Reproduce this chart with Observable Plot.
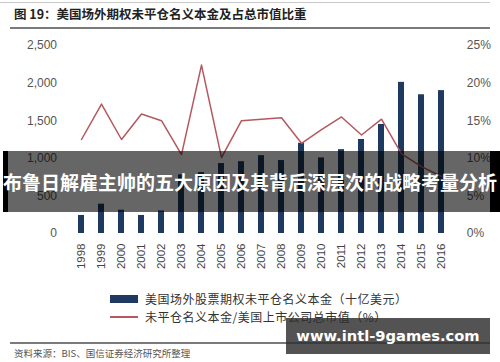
<!DOCTYPE html>
<html>
<head>
<meta charset="utf-8">
<script src="https://cdn.jsdelivr.net/npm/d3@7"></script>
<script src="https://cdn.jsdelivr.net/npm/@observablehq/plot@0.6"></script>
<style>
  html, body { margin: 0; padding: 0; background: #fff; }
  #page { position: relative; width: 500px; height: 362px; overflow: hidden; background: #fff;
          font-family: "Liberation Sans", Arial, "Noto Sans CJK SC", sans-serif; }
  .abs { position: absolute; }
  #chart { position: absolute; left: 0; top: 30px; }
  .cjk { font-family: "Noto Sans CJK SC", sans-serif; }
</style>
</head>
<body>
<div id="page">
  <div class="abs" style="left:0;top:2px;width:490px;height:1px;background:#c8c8c8"></div>
  <div class="abs cjk" id="title" style="left:14px;top:6px;font-size:12.5px;font-weight:bold;color:#222;line-height:16px;white-space:nowrap"></div>
  <div class="abs" style="left:10px;top:27px;width:480px;height:2px;background:#7a7a7a"></div>
  <div id="chart"></div>
  <div class="abs" style="left:110px;top:295px;width:28px;height:8px;background:#1f3a60"></div>
  <div class="abs cjk" id="leg1" style="left:145px;top:291px;font-size:12px;letter-spacing:0.5px;color:#333;line-height:16px;white-space:nowrap"></div>
  <div class="abs" style="left:110px;top:316px;width:28px;height:1.5px;background:#b5585e"></div>
  <div class="abs cjk" id="leg2" style="left:145px;top:309px;font-size:12px;letter-spacing:0.5px;color:#333;line-height:16px;white-space:nowrap"></div>
  <div class="abs" style="left:10px;top:342px;width:480px;height:1.5px;background:#7a7a7a"></div>
  <div class="abs cjk" id="source" style="left:14px;top:347px;font-size:9.5px;color:#555;line-height:12px;white-space:nowrap"></div>
  <!-- overlay banner -->
  <div class="abs" style="left:3px;top:151px;width:497px;height:61px;background:rgba(0,0,0,0.6)"></div>
  <div class="abs" style="left:3px;top:151px;width:5px;height:61px;background:#000"></div>
  <div class="abs" style="left:490px;top:151px;width:10px;height:61px;background:#000"></div>
  <div class="abs cjk" id="banner" style="left:0;top:151px;width:500px;height:61px;line-height:61px;text-align:center;font-size:19px;font-weight:bold;color:#fff;white-space:nowrap"></div>
  <!-- watermark -->
  <div class="abs" id="wm" style="left:286px;top:318px;width:204px;height:36px;line-height:36px;background:rgba(45,45,45,0.82);color:#fff;text-align:center;font-family:'DejaVu Sans',sans-serif;font-weight:bold;font-size:14.7px;white-space:nowrap"></div>
</div>
<script>
const titleText = "图 19：美国场外期权未平仓名义本金及占总市值比重";
const years = ["1998","1999","2000","2001","2002","2003","2004","2005","2006","2007","2008","2009","2010","2011","2012","2013","2014","2015","2016"];
const notional = [240, 390, 310, 240, 300, 780, 810, 930, 955, 1035, 970, 1200, 1005, 1115, 1250, 1450, 2010, 1845, 1900];
const ratioPct = [12.5, 17.2, 12.5, 15.9, 15.0, 10.5, 22.4, 10.1, 15.0, 15.2, 15.4, 12.0, 13.8, 15.5, 13.1, 15.2, 10.6, 8.9, 7.6];
const leftTicks = [0, 500, 1000, 1500, 2000, 2500];
const rightTicksPct = [0, 5, 10, 15, 20, 25];
const legend1 = "美国场外股票期权未平仓名义本金（十亿美元）";
const legend2 = "未平仓名义本金/美国上市公司总市值（%）";
const sourceText = "资料来源：BIS、国信证券经济研究所整理";
const bannerText = "布鲁日解雇主帅的五大原因及其背后深层次的战略考量分析";
const watermarkText = "www.intl-9games.com";

document.getElementById("title").textContent = titleText;
document.getElementById("leg1").textContent = legend1;
document.getElementById("leg2").textContent = legend2;
document.getElementById("source").textContent = sourceText;
document.getElementById("banner").textContent = bannerText;
document.getElementById("wm").textContent = watermarkText;

const data = years.map((y, i) => ({year: y, amount: notional[i], pct: ratioPct[i]}));
// right axis: 25% maps to 2500 on the shared scale
const k = 2500 / 25;

const chart = Plot.plot({
  width: 500,
  height: 255,
  marginTop: 15,
  marginBottom: 52,
  marginLeft: 58.5,
  marginRight: 35.7,
  style: {fontFamily: "'Liberation Sans', Arial, sans-serif", fontSize: "12px", color: "#555", background: "transparent"},
  x: {type: "band", domain: years, padding: 0.7, label: null},
  y: {domain: [0, 2500], label: null},
  marks: [
    Plot.barY(data, {x: "year", y: "amount", fill: "#1f3a60"}),
    Plot.lineY(data, {x: "year", y: d => d.pct * k, stroke: "#b5585e", strokeWidth: 1.5}),
    Plot.axisY({ticks: leftTicks, tickFormat: d3.format(","), tickSize: 0, tickPadding: 2, label: null}),
    Plot.axisY({anchor: "right", ticks: rightTicksPct.map(p => p * k), tickFormat: d => (d / k) + "%", tickSize: 0, tickPadding: 2, label: null}),
    Plot.axisX({tickRotate: -90, tickSize: 0, tickPadding: 10, label: null, fontSize: 11.5, fill: "#444"})
  ]
});
document.getElementById("chart").appendChild(chart);
</script>
</body>
</html>
